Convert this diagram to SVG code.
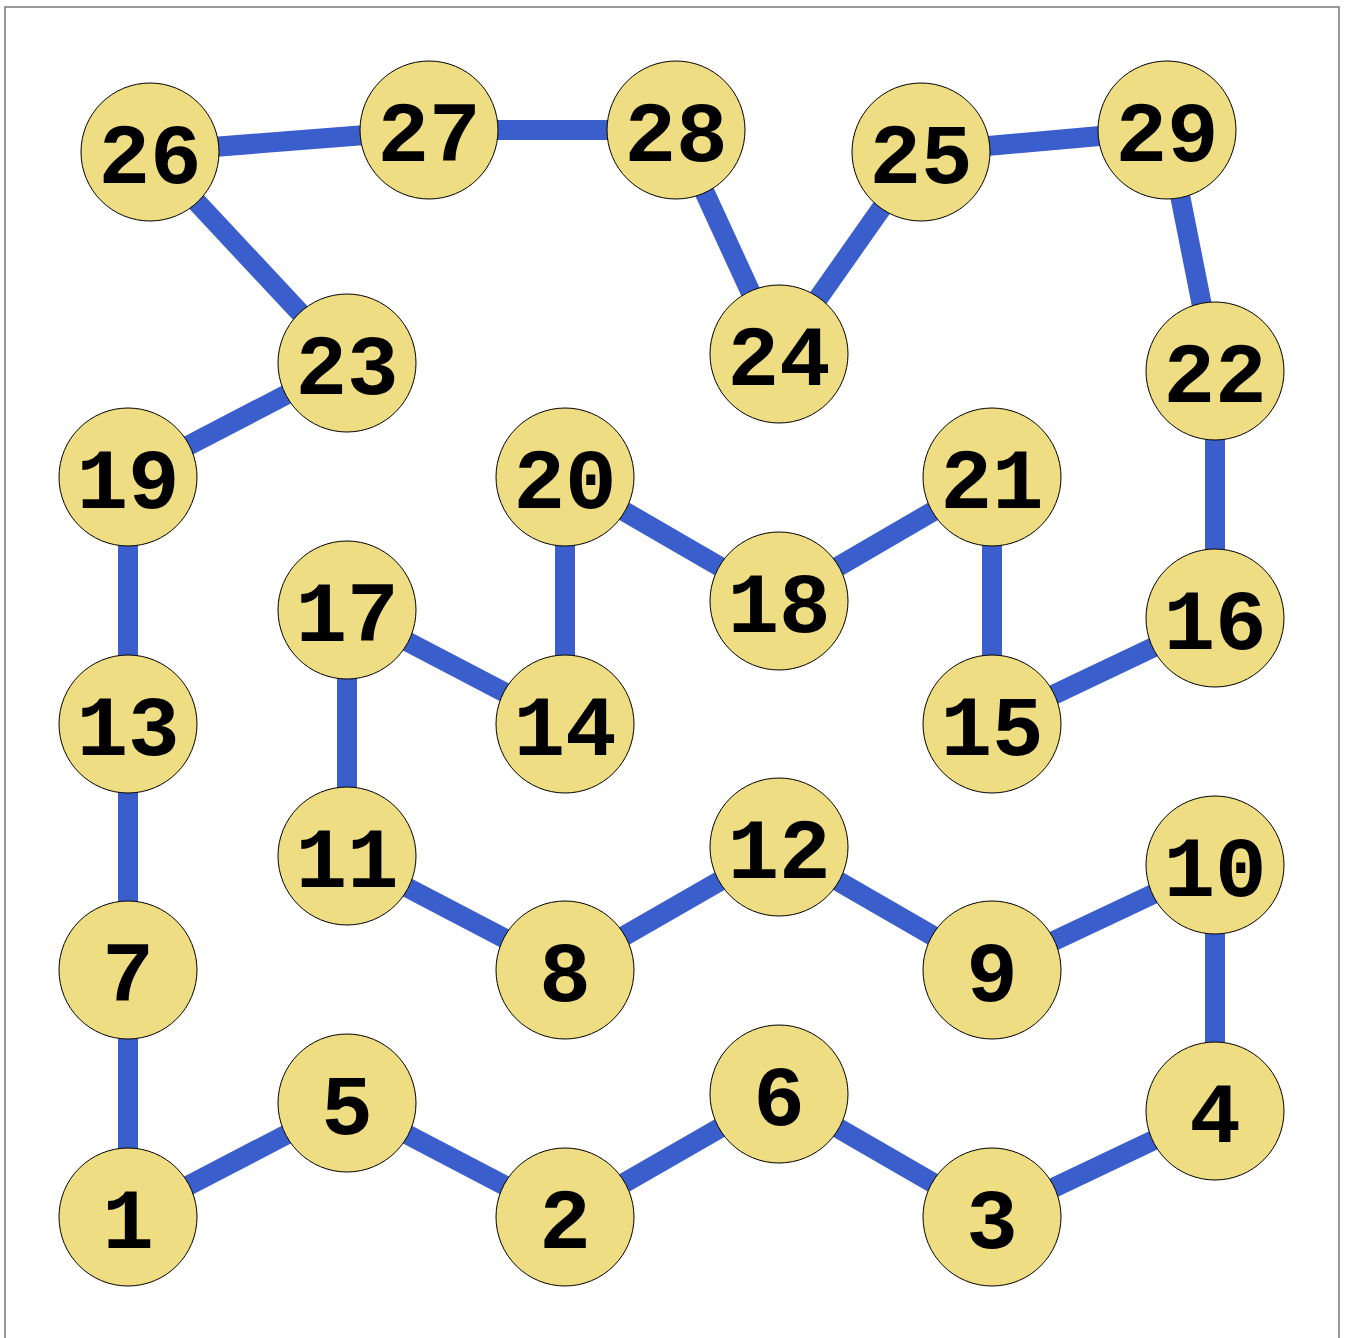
<svg xmlns="http://www.w3.org/2000/svg" width="1345" height="1338" viewBox="0 0 1345 1338">
<style>
.e{stroke:#3a5fcd;stroke-width:20;fill:none}
.n circle{fill:#eedd82;stroke:#000;stroke-width:1}
.n text{font-family:"Liberation Mono","Courier New",monospace;font-weight:bold;font-size:86px;text-anchor:middle;fill:#000}
</style>
<rect x="5" y="7" width="1334" height="1340" fill="#fff" stroke="#777" stroke-width="1.5"/>
<g id="edges">
<line class="e" x1="150" y1="152" x2="429" y2="130"/>
<line class="e" x1="429" y1="130" x2="676" y2="130"/>
<line class="e" x1="676" y1="130" x2="779" y2="354"/>
<line class="e" x1="779" y1="354" x2="921" y2="152"/>
<line class="e" x1="921" y1="152" x2="1167" y2="130"/>
<line class="e" x1="1167" y1="130" x2="1215" y2="371"/>
<line class="e" x1="1215" y1="371" x2="1215" y2="618"/>
<line class="e" x1="1215" y1="618" x2="992" y2="724"/>
<line class="e" x1="992" y1="724" x2="992" y2="477"/>
<line class="e" x1="992" y1="477" x2="779" y2="601"/>
<line class="e" x1="779" y1="601" x2="565" y2="477"/>
<line class="e" x1="565" y1="477" x2="565" y2="724"/>
<line class="e" x1="565" y1="724" x2="347" y2="610"/>
<line class="e" x1="347" y1="610" x2="347" y2="856"/>
<line class="e" x1="347" y1="856" x2="565" y2="970"/>
<line class="e" x1="565" y1="970" x2="779" y2="847"/>
<line class="e" x1="779" y1="847" x2="992" y2="970"/>
<line class="e" x1="992" y1="970" x2="1215" y2="865"/>
<line class="e" x1="1215" y1="865" x2="1215" y2="1111"/>
<line class="e" x1="1215" y1="1111" x2="992" y2="1217"/>
<line class="e" x1="992" y1="1217" x2="779" y2="1094"/>
<line class="e" x1="779" y1="1094" x2="565" y2="1217"/>
<line class="e" x1="565" y1="1217" x2="347" y2="1103"/>
<line class="e" x1="347" y1="1103" x2="128" y2="1217"/>
<line class="e" x1="128" y1="1217" x2="128" y2="970"/>
<line class="e" x1="128" y1="970" x2="128" y2="724"/>
<line class="e" x1="128" y1="724" x2="128" y2="477"/>
<line class="e" x1="128" y1="477" x2="347" y2="363"/>
<line class="e" x1="347" y1="363" x2="150" y2="152"/>
</g>
<g id="n1" class="n"><circle cx="128" cy="1217" r="69"/><text x="128" y="1248">1</text></g>
<g id="n2" class="n"><circle cx="565" cy="1217" r="69"/><text x="565" y="1248">2</text></g>
<g id="n3" class="n"><circle cx="992" cy="1217" r="69"/><text x="992" y="1248">3</text></g>
<g id="n4" class="n"><circle cx="1215" cy="1111" r="69"/><text x="1215" y="1142">4</text></g>
<g id="n5" class="n"><circle cx="347" cy="1103" r="69"/><text x="347" y="1134">5</text></g>
<g id="n6" class="n"><circle cx="779" cy="1094" r="69"/><text x="779" y="1125">6</text></g>
<g id="n7" class="n"><circle cx="128" cy="970" r="69"/><text x="128" y="1001">7</text></g>
<g id="n8" class="n"><circle cx="565" cy="970" r="69"/><text x="565" y="1001">8</text></g>
<g id="n9" class="n"><circle cx="992" cy="970" r="69"/><text x="992" y="1001">9</text></g>
<g id="n10" class="n"><circle cx="1215" cy="865" r="69"/><text x="1215" y="896">10</text></g>
<g id="n11" class="n"><circle cx="347" cy="856" r="69"/><text x="347" y="887">11</text></g>
<g id="n12" class="n"><circle cx="779" cy="847" r="69"/><text x="779" y="878">12</text></g>
<g id="n13" class="n"><circle cx="128" cy="724" r="69"/><text x="128" y="755">13</text></g>
<g id="n14" class="n"><circle cx="565" cy="724" r="69"/><text x="565" y="755">14</text></g>
<g id="n15" class="n"><circle cx="992" cy="724" r="69"/><text x="992" y="755">15</text></g>
<g id="n16" class="n"><circle cx="1215" cy="618" r="69"/><text x="1215" y="649">16</text></g>
<g id="n17" class="n"><circle cx="347" cy="610" r="69"/><text x="347" y="641">17</text></g>
<g id="n18" class="n"><circle cx="779" cy="601" r="69"/><text x="779" y="632">18</text></g>
<g id="n19" class="n"><circle cx="128" cy="477" r="69"/><text x="128" y="508">19</text></g>
<g id="n20" class="n"><circle cx="565" cy="477" r="69"/><text x="565" y="508">20</text></g>
<g id="n21" class="n"><circle cx="992" cy="477" r="69"/><text x="992" y="508">21</text></g>
<g id="n22" class="n"><circle cx="1215" cy="371" r="69"/><text x="1215" y="402">22</text></g>
<g id="n23" class="n"><circle cx="347" cy="363" r="69"/><text x="347" y="394">23</text></g>
<g id="n24" class="n"><circle cx="779" cy="354" r="69"/><text x="779" y="385">24</text></g>
<g id="n25" class="n"><circle cx="921" cy="152" r="69"/><text x="921" y="183">25</text></g>
<g id="n26" class="n"><circle cx="150" cy="152" r="69"/><text x="150" y="183">26</text></g>
<g id="n27" class="n"><circle cx="429" cy="130" r="69"/><text x="429" y="161">27</text></g>
<g id="n28" class="n"><circle cx="676" cy="130" r="69"/><text x="676" y="161">28</text></g>
<g id="n29" class="n"><circle cx="1167" cy="130" r="69"/><text x="1167" y="161">29</text></g>
</svg>
